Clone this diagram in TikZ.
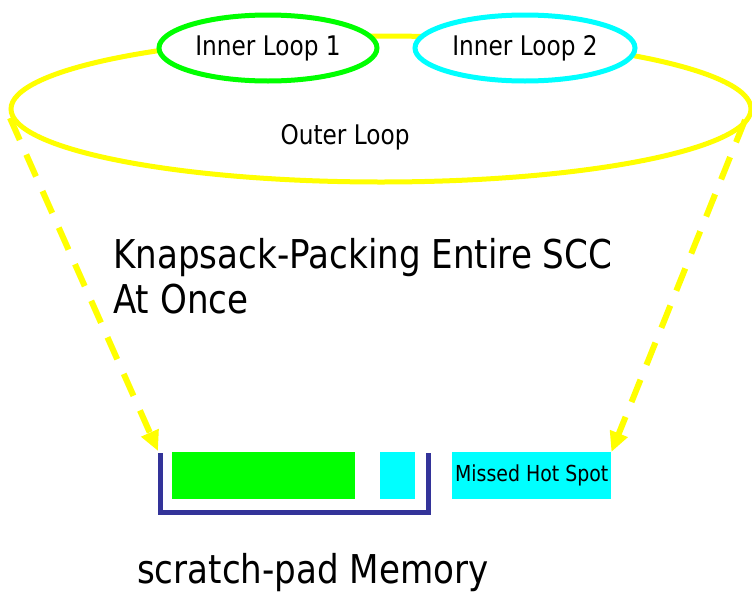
\documentclass[tikz,border=0pt]{standalone}
\usepackage{fontspec}
\setmainfont[FakeStretch=0.86]{DejaVu Sans}
\usetikzlibrary{shapes.geometric,arrows.meta}
\definecolor{yel}{HTML}{FFFF00}
\definecolor{grn}{HTML}{00FF00}
\definecolor{cyn}{HTML}{00FFFF}
\definecolor{nvy}{HTML}{333399}
\tikzset{
  loopell/.style={ellipse, draw, line width=5pt, fill=white, inner sep=0pt},
  lbl/.style={font=\fontsize{27}{32}\selectfont, inner sep=0pt},
  flow/.style={yel, line width=6pt, dash pattern=on 24pt off 16pt,
    -{Triangle[length=20pt,width=18pt]}, shorten >=0pt},
  block/.style={inner sep=0pt, minimum height=47pt}
}
\begin{document}
\begin{tikzpicture}[x=1pt,y=-1pt]
\useasboundingbox (0,0) rectangle (752,592);
% outer loop
\node[loopell, draw=yel, fill=none, minimum width=740pt, minimum height=146pt] (outer) at (381,109) {};
\node[lbl] (outerlbl) at (345,137) {Outer Loop};
% inner loops
\node[loopell, draw=grn, minimum width=218pt, minimum height=66pt] (in1) at (268,48) {};
\node[lbl] (in1lbl) at (268,48) {Inner Loop 1};
\node[loopell, draw=cyn, minimum width=220pt, minimum height=66pt] (in2) at (525,48) {};
\node[lbl] (in2lbl) at (525,48) {Inner Loop 2};
% main text
\node[anchor=base west, align=left, inner sep=0pt, font=\fontsize{39.7}{45}\selectfont] (title) at (113,313)
  {Knapsack-Packing Entire SCC\\At Once};
% memory blocks
\node[block, fill=grn, minimum width=183pt, anchor=north west] (gblk) at (172,452) {};
\node[block, fill=cyn, minimum width=35pt, anchor=north west] (cblk) at (380,452) {};
\node[block, fill=cyn, minimum width=159pt, anchor=north west, font=\fontsize{22}{26}\selectfont] (hot) at (452,452) {Missed Hot Spot};
% bracket
\coordinate (btl) at (160,453);
\coordinate (bbl) at (160,512);
\coordinate (bbr) at (428,512);
\coordinate (btr) at (428,453);
\draw[nvy, line width=5pt] (btl) -- (bbl) -- (bbr) -- (btr);
\node[anchor=base west, inner sep=0pt, font=\fontsize{39.7}{45}\selectfont] (mem) at (137,583) {scratch-pad Memory};
% arrows
\coordinate (ls) at (10,118);
\coordinate (rs) at (745,120);
\coordinate (le) at (158,451);
\draw[flow] (ls) -- (le);
\draw[flow] (rs) -- (hot.north east);
\end{tikzpicture}
\end{document}
